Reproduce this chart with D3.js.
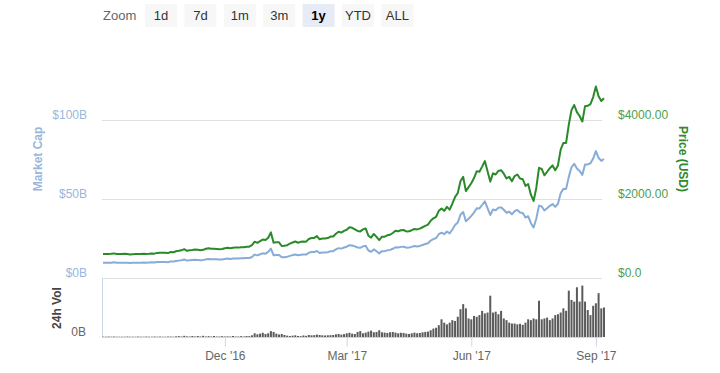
<!DOCTYPE html>
<html lang="en">
<head>
<meta charset="utf-8" />
<title>Bitcoin: market cap, price and 24h volume</title>
<script src="https://cdnjs.cloudflare.com/ajax/libs/d3/7.8.5/d3.min.js"></script>
<style>
  body { margin: 0; background: #fff; }
  svg { font-family: Helvetica, Arial, "Liberation Sans", sans-serif; }
</style>
</head>
<body>
<script>
// one value every 2 days, starting 2 Sep 2016
const startDate = new Date(2016, 8, 2);
const stepDays = 2;

// price in USD
const price = [
  605, 608, 610, 612, 623, 607, 608, 607, 611, 609, 597, 603, 606, 605, 609,
  613, 610, 612, 619, 617, 636, 640, 641, 637, 630, 657, 653, 678, 688, 701,
  730, 688, 703, 711, 722, 715, 702, 713, 740, 751, 738, 741, 736, 729, 734,
  753, 764, 753, 767, 772, 769, 780, 778, 790, 792, 830, 920, 891, 932, 973, 961,
  1021, 1154, 893, 908, 904, 810, 818, 831, 869, 898, 925, 892, 915, 921, 920,
  989, 1013, 1015, 1060, 980, 998, 1000, 1010, 1050, 1050, 1120, 1170, 1150, 1194,
  1222, 1285, 1270, 1230, 1192, 1180, 1230, 1255, 1070, 1022, 1115, 1040, 960, 1045, 1045, 1080,
  1095, 1140, 1195, 1185, 1210, 1215, 1180, 1185, 1210, 1240, 1230, 1250, 1285, 1320, 1350,
  1450, 1510, 1550, 1700, 1760, 1700, 1800, 1730, 1880, 2050, 2150, 2450, 2560, 2200, 2300,
  2400, 2530, 2700, 2690, 2820, 2960, 2700, 2440, 2650, 2620, 2710, 2730, 2640, 2520, 2560,
  2450, 2580, 2620, 2520, 2500, 2330, 2380, 2110, 1950, 2280, 2790, 2760, 2600, 2690, 2780, 2850,
  2730, 2850, 3250, 3420, 3420, 3880, 4250, 4380, 4200, 4100, 3960, 4350, 4360, 4400, 4580,
  4850, 4600, 4480, 4550
];

// market cap in billions of USD
const marketCap = [
  9.6, 9.7, 9.7, 9.7, 9.9, 9.6, 9.7, 9.6, 9.7, 9.7, 9.5, 9.6, 9.6, 9.6, 9.7,
  9.8, 9.7, 9.8, 9.9, 9.8, 10.1, 10.2, 10.2, 10.2, 10.0, 10.5, 10.4, 10.8, 11.0, 11.2,
  11.7, 11.0, 11.2, 11.4, 11.6, 11.4, 11.2, 11.4, 11.8, 12.0, 11.8, 11.9, 11.8, 11.7, 11.7,
  12.1, 12.3, 12.1, 12.3, 12.4, 12.3, 12.5, 12.5, 12.7, 12.7, 13.3, 14.8, 14.3, 15.0, 15.6, 15.4,
  16.5, 18.6, 14.4, 14.6, 14.6, 13.1, 13.2, 13.4, 14.0, 14.5, 14.9, 14.4, 14.7, 14.8, 14.8,
  16.0, 16.4, 16.4, 17.1, 15.8, 16.1, 16.2, 16.3, 17.0, 17.0, 18.1, 18.9, 18.6, 19.3,
  19.8, 20.8, 20.6, 20.0, 19.3, 19.1, 20.0, 20.4, 17.4, 16.6, 18.1, 16.9, 15.6, 17.0, 17.0, 17.5,
  17.8, 18.5, 19.4, 19.3, 19.7, 19.8, 19.2, 19.3, 19.7, 20.2, 20.0, 20.3, 20.9, 21.5, 22.0,
  23.7, 24.6, 25.3, 27.7, 28.7, 27.7, 29.4, 28.2, 30.7, 33.5, 35.1, 40.0, 41.8, 35.9, 37.5,
  39.3, 41.4, 44.2, 44.0, 46.2, 48.5, 44.2, 39.9, 43.4, 42.9, 44.4, 44.7, 43.2, 41.3, 41.9,
  40.3, 42.4, 43.0, 41.4, 41.1, 38.3, 39.1, 34.7, 32.0, 37.5, 45.8, 45.3, 42.7, 44.2, 45.7, 46.8,
  45.0, 47.0, 53.6, 56.4, 56.4, 64.0, 70.1, 72.3, 69.3, 67.7, 65.3, 71.8, 71.9, 72.6, 75.6,
  80.3, 76.1, 74.1, 75.3
];

// 24h volume in billions of USD
const volume = [
  0.02, 0.02, 0.03, 0.02, 0.03, 0.02, 0.02, 0.02, 0.02, 0.03, 0.02, 0.02, 0.02, 0.03, 0.02,
  0.02, 0.03, 0.02, 0.02, 0.03, 0.02, 0.03, 0.02, 0.02, 0.03, 0.03, 0.02, 0.04, 0.05, 0.03,
  0.07, 0.04, 0.03, 0.06, 0.03, 0.06, 0.03, 0.07, 0.03, 0.05, 0.03, 0.06, 0.03, 0.03, 0.05,
  0.03, 0.04, 0.03, 0.06, 0.03, 0.03, 0.05, 0.03, 0.06, 0.05, 0.10, 0.22, 0.16, 0.20, 0.25, 0.18,
  0.22, 0.35, 0.30, 0.20, 0.15, 0.18, 0.12, 0.08, 0.06, 0.08, 0.10, 0.06, 0.05, 0.09, 0.07,
  0.12, 0.10, 0.11, 0.14, 0.12, 0.10, 0.09, 0.10, 0.11, 0.12, 0.16, 0.18, 0.14, 0.17,
  0.22, 0.25, 0.20, 0.18, 0.30, 0.35, 0.22, 0.26, 0.32, 0.38, 0.28, 0.30, 0.40, 0.28, 0.26, 0.24,
  0.28, 0.30, 0.26, 0.22, 0.25, 0.24, 0.20, 0.18, 0.22, 0.26, 0.22, 0.24, 0.28, 0.30, 0.32,
  0.40, 0.50, 0.55, 0.70, 1.05, 0.85, 0.75, 0.85, 1.00, 0.95, 1.20, 1.65, 1.95, 1.70, 1.10,
  1.05, 1.25, 1.20, 1.30, 1.55, 1.40, 1.45, 2.45, 1.45, 1.50, 1.35, 1.55, 1.10, 1.00, 0.85,
  0.80, 0.80, 0.75, 0.78, 0.72, 0.85, 1.05, 1.00, 1.10, 1.05, 2.15, 1.05, 1.10, 1.15, 1.00, 1.10,
  1.30, 1.35, 1.45, 1.70, 1.55, 2.75, 2.20, 2.10, 2.95, 2.10, 3.05, 2.10, 1.60, 1.30, 1.85,
  2.00, 2.60, 1.70, 1.75
];

const rangeButtons = ['1d', '7d', '1m', '3m', '1y', 'YTD', 'ALL'];
const selectedButton = '1y';

const capTicks = [0, 50, 100];
const capTickLabels = ['$0B', '$50B', '$100B'];
const priceTicks = [0, 2000, 4000];
const priceTickLabels = ['$0.0', '$2000.00', '$4000.00'];
const volTicks = [0];
const volTickLabels = ['0B'];
const dateTicks = [new Date(2016, 11, 1), new Date(2017, 2, 1), new Date(2017, 5, 1), new Date(2017, 8, 1)];
const dateTickLabels = ["Dec '16", "Mar '17", "Jun '17", "Sep '17"];

const width = 720;
const height = 373;
const plotLeft = 103;
const plotRight = 604;
const mainTop = 41;
const mainBottom = 278;
const volTop = 278;
const volBottom = 337;

const dates = price.map((d, i) => d3.timeDay.offset(startDate, i * stepDays));
const rows = dates.map((date, i) => ({date, price: price[i], cap: marketCap[i], vol: volume[i]}));

const svg = d3.select('body')
  .append('svg')
  .attr('width', width)
  .attr('height', height)
  .attr('viewBox', [0, 0, width, height]);

const x = d3.scaleTime()
  .domain([new Date(2016, 8, 2), new Date(2017, 8, 7)])
  .range([plotLeft, plotRight]);

const yPrice = d3.scaleLinear().domain([0, 6000]).range([mainBottom, mainTop]);
const yCap = d3.scaleLinear().domain([0, 150]).range([mainBottom, mainTop]);
const yVol = d3.scaleLinear().domain([0, 3.5]).range([volBottom, volTop]);

// range selector
const sel = svg.append('g');
sel.append('text')
  .attr('x', 103).attr('y', 20)
  .attr('fill', '#666').attr('font-size', 13)
  .text('Zoom');
const btn = sel.selectAll('g.btn')
  .data(rangeButtons)
  .join('g')
  .attr('class', 'btn')
  .attr('transform', (d, i) => `translate(${161 + i * 39.4},0)`);
btn.append('rect')
  .attr('x', -16).attr('y', 4)
  .attr('width', 32).attr('height', 23)
  .attr('fill', d => d === selectedButton ? '#e6ebf5' : '#f7f7f7');
btn.append('text')
  .attr('y', 20)
  .attr('text-anchor', 'middle')
  .attr('font-size', 13)
  .attr('font-weight', d => d === selectedButton ? 'bold' : null)
  .attr('fill', d => d === selectedButton ? '#000' : '#333')
  .text(d => d);

// grid lines of main pane
svg.append('g')
  .selectAll('line')
  .data(priceTicks)
  .join('line')
  .attr('x1', plotLeft - 1).attr('x2', plotRight - 2)
  .attr('y1', d => Math.round(yPrice(d)) + 0.5)
  .attr('y2', d => Math.round(yPrice(d)) + 0.5)
  .attr('stroke', '#e0e0e0');

// left axis (market cap)
const capAxis = svg.append('g')
  .attr('transform', `translate(87,0)`)
  .call(d3.axisLeft(yCap).tickValues(capTicks).tickSize(0).tickPadding(0)
    .tickFormat((d, i) => capTickLabels[i]))
  .call(g => g.select('.domain').remove());
capAxis.selectAll('text')
  .attr('fill', '#98b7dc').attr('font-size', 12)
  .attr('dy', '-0.1em');
capAxis.attr('font-family', null);

svg.append('text')
  .attr('transform', 'translate(42,159) rotate(-90)')
  .attr('text-anchor', 'middle')
  .attr('fill', '#98b7dc').attr('font-size', 12).attr('font-weight', 'bold')
  .text('Market Cap');

// right axis (price)
const priceAxis = svg.append('g')
  .attr('transform', `translate(618,0)`)
  .call(d3.axisRight(yPrice).tickValues(priceTicks).tickSize(0).tickPadding(0)
    .tickFormat((d, i) => priceTickLabels[i]))
  .call(g => g.select('.domain').remove());
priceAxis.selectAll('text')
  .attr('fill', '#4c9e4c').attr('font-size', 12)
  .attr('dy', '-0.1em');
priceAxis.attr('font-family', null);

svg.append('text')
  .attr('transform', 'translate(679,159) rotate(90)')
  .attr('text-anchor', 'middle')
  .attr('fill', '#2f8a2f').attr('font-size', 12).attr('font-weight', 'bold')
  .text('Price (USD)');

// lines
const capLine = d3.line().x(d => x(d.date)).y(d => yCap(d.cap));
const priceLine = d3.line().x(d => x(d.date)).y(d => yPrice(d.price));

svg.append('path')
  .datum(rows)
  .attr('fill', 'none')
  .attr('stroke', '#87acd7')
  .attr('stroke-width', 2)
  .attr('stroke-linejoin', 'round')
  .attr('d', capLine);

svg.append('path')
  .datum(rows)
  .attr('fill', 'none')
  .attr('stroke', '#2a8a2a')
  .attr('stroke-width', 2)
  .attr('stroke-linejoin', 'round')
  .attr('d', priceLine);

// volume pane
svg.append('line')
  .attr('x1', plotLeft - 0.5).attr('x2', plotLeft - 0.5)
  .attr('y1', volTop).attr('y2', volBottom)
  .attr('stroke', '#ccd6eb');

const barW = 2;
svg.append('g')
  .attr('fill', '#5b5b5b')
  .selectAll('rect')
  .data(rows)
  .join('rect')
  .attr('x', d => x(d.date) - barW / 2)
  .attr('y', d => yVol(d.vol))
  .attr('width', barW)
  .attr('height', d => yVol(0) - yVol(d.vol));

const volAxis = svg.append('g')
  .attr('transform', `translate(86,0)`)
  .call(d3.axisLeft(yVol).tickValues(volTicks).tickSize(0).tickPadding(0)
    .tickFormat((d, i) => volTickLabels[i]))
  .call(g => g.select('.domain').remove());
volAxis.selectAll('text')
  .attr('fill', '#666').attr('font-size', 12)
  .attr('dy', '-0.1em');
volAxis.attr('font-family', null);

svg.append('text')
  .attr('transform', 'translate(61,308) rotate(-90)')
  .attr('text-anchor', 'middle')
  .attr('fill', '#444').attr('font-size', 12).attr('font-weight', 'bold')
  .text('24h Vol');

// date axis
const xAxis = svg.append('g')
  .attr('transform', `translate(0,${volBottom + 0.5})`)
  .call(d3.axisBottom(x).tickValues(dateTicks).tickSize(9).tickPadding(5)
    .tickFormat((d, i) => dateTickLabels[i]));
xAxis.select('.domain')
  .attr('stroke', '#ccd6eb')
  .attr('d', `M${plotLeft - 1},0H${plotRight - 2}`);
xAxis.selectAll('.tick line').attr('stroke', '#ccd6eb');
xAxis.selectAll('text').attr('fill', '#666').attr('font-size', 12);
xAxis.attr('font-family', null);
</script>
</body>
</html>
